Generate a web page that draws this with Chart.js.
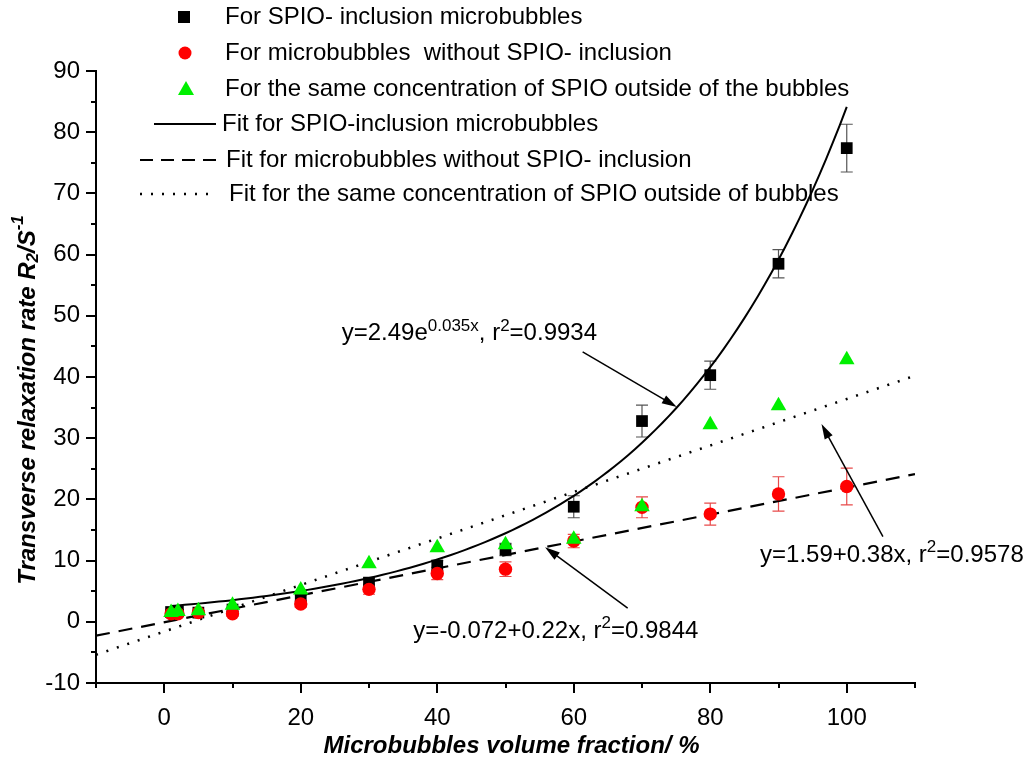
<!DOCTYPE html>
<html lang="en">
<head>
  <meta charset="UTF-8" />
  <title>Transverse relaxation rate vs microbubble volume fraction</title>
  <script src="https://cdn.jsdelivr.net/npm/chart.js"></script>
  <style>
    body {
      margin: 0;
      background: #fff;
    }
    .chart-container {
      position: relative;
      width: 1027px;
      height: 759px;
    }
  </style>
</head>
<body>
  <div class="chart-container">
    <canvas id="r2Chart"></canvas>
  </div>

  <script>
    // === Data ===
    const volumeFraction = [1, 2, 5, 10, 20, 30, 40, 50, 60, 70, 80, 90, 100];
    const r2SpioInclusion = [1.6, 1.7, 1.5, 2.0, 3.9, 6.4, 9.2, 11.8, 18.8, 32.8, 40.3, 58.5, 77.4];
    const errSpioInclusion = [0.3, 0.3, 0.3, 0.3, 0.5, 0.8, 0.8, 1.0, 1.8, 2.6, 2.3, 2.3, 3.9];
    const r2NoSpio = [1.3, 1.3, 1.5, 1.3, 2.9, 5.3, 7.9, 8.6, 13.2, 18.7, 17.6, 20.9, 22.1];
    const errNoSpio = [0.4, 0.4, 0.3, 0.4, 0.5, 0.8, 1.0, 1.2, 1.1, 1.7, 1.8, 2.8, 3.0];
    const r2SpioOutside = [1.5, 1.7, 1.8, 2.7, 5.2, 9.5, 12.1, 12.6, 13.5, 18.8, 32.2, 35.3, 42.8];

    // fit curves as drawn: exp y = a*e^(b x), linear y = a + b x
    const fitExpSpio = [2.49, 0.0352];
    const fitLinNoSpio = [-0.072, 0.22];
    const fitLinOutside = [-1.59, 0.38];
    const fitExpRange = [1, 100];
    const fitLinRange = [-10, 110];

    const xTickLabels = [0, 20, 40, 60, 80, 100];
    const yTickLabels = [-10, 0, 10, 20, 30, 40, 50, 60, 70, 80, 90];

    const FONT = "'Liberation Sans', Arial, sans-serif";
    const GREEN = '#00f000';
    const RED = '#ff0000';

    const toPoints = (xs, ys) => xs.map((x, i) => ({ x: x, y: ys[i] }));

    const expCurve = [];
    for (let x = fitExpRange[0]; x <= fitExpRange[1]; x += 1) {
      expCurve.push({ x: x, y: fitExpSpio[0] * Math.exp(fitExpSpio[1] * x) });
    }
    const linLine = p => fitLinRange.map(x => ({ x: x, y: p[0] + p[1] * x }));

    // === helpers for text with super/subscripts ===
    function richWidth(ctx, parts, size, style) {
      let w = 0;
      parts.forEach(([t, kind]) => {
        const s = kind === 'n' ? size : Math.round(size * 0.7);
        ctx.font = `${style} ${s}px ${FONT}`;
        w += ctx.measureText(t).width;
      });
      return w;
    }
    function drawRich(ctx, parts, x, y, size, style) {
      let cx = x;
      parts.forEach(([t, kind]) => {
        const s = kind === 'n' ? size : Math.round(size * 0.7);
        const dy = kind === 'sup' ? -size * 0.4 : kind === 'sub' ? size * 0.22 : 0;
        ctx.font = `${style} ${s}px ${FONT}`;
        ctx.fillText(t, cx, y + dy);
        cx += ctx.measureText(t).width;
      });
    }
    function arrow(ctx, x1, y1, x2, y2) {
      const a = Math.atan2(y2 - y1, x2 - x1);
      const hl = 15, hw = 4.5;
      ctx.beginPath();
      ctx.moveTo(x1, y1);
      ctx.lineTo(x2 - Math.cos(a) * hl * 0.7, y2 - Math.sin(a) * hl * 0.7);
      ctx.stroke();
      ctx.beginPath();
      ctx.moveTo(x2, y2);
      ctx.lineTo(x2 - hl * Math.cos(a) + hw * Math.sin(a), y2 - hl * Math.sin(a) - hw * Math.cos(a));
      ctx.lineTo(x2 - hl * Math.cos(a) - hw * Math.sin(a), y2 - hl * Math.sin(a) + hw * Math.cos(a));
      ctx.closePath();
      ctx.fill();
    }

    // annotations in data units: text left/baseline, arrow from -> to
    const annotations = [
      { parts: [['y=2.49e', 'n'], ['0.035x', 'sup'], [', r', 'n'], ['2', 'sup'], ['=0.9934', 'n']],
        at: [26.0, 46.0], from: [61.3, 44.1], to: [75.1, 35.1] },
      { parts: [['y=-0.072+0.22x, r', 'n'], ['2', 'sup'], ['=0.9844', 'n']],
        at: [36.5, -2.6], from: [67.9, 2.25], to: [55.8, 12.2] },
      { parts: [['y=1.59+0.38x, r', 'n'], ['2', 'sup'], ['=0.9578', 'n']],
        at: [87.3, 9.8], from: [105.3, 13.9], to: [96.3, 32.3] }
    ];

    const decorPlugin = {
      id: 'decor',
      beforeDatasetsDraw(chart) {
        const ctx = chart.ctx, xs = chart.scales.x, ys = chart.scales.y;
        ctx.save();
        ctx.lineWidth = 1.2;
        const bars = [[r2SpioInclusion, errSpioInclusion, '#555'], [r2NoSpio, errNoSpio, '#e84a4a']];
        bars.forEach(([vals, errs, col]) => {
          ctx.strokeStyle = col;
          volumeFraction.forEach((v, i) => {
            const px = xs.getPixelForValue(v);
            const t = ys.getPixelForValue(vals[i] + errs[i]);
            const b = ys.getPixelForValue(vals[i] - errs[i]);
            ctx.beginPath();
            ctx.moveTo(px, t); ctx.lineTo(px, b);
            ctx.moveTo(px - 6, t); ctx.lineTo(px + 6, t);
            ctx.moveTo(px - 6, b); ctx.lineTo(px + 6, b);
            ctx.stroke();
          });
        });
        ctx.restore();
      },
      afterDraw(chart) {
        const ctx = chart.ctx, xs = chart.scales.x, ys = chart.scales.y;
        const area = chart.chartArea;
        ctx.save();

        // tick marks
        ctx.strokeStyle = '#000';
        ctx.lineWidth = 2;
        ctx.beginPath();
        for (let v = xs.min; v <= xs.max; v += 10) {
          const px = Math.round(xs.getPixelForValue(v));
          const len = xTickLabels.includes(v) ? 10 : 5;
          ctx.moveTo(px, area.bottom); ctx.lineTo(px, area.bottom + len);
        }
        for (let v = ys.min; v <= ys.max; v += 5) {
          const py = Math.round(ys.getPixelForValue(v));
          const len = yTickLabels.includes(v) ? 10 : 5;
          ctx.moveTo(area.left, py); ctx.lineTo(area.left - len, py);
        }
        ctx.stroke();

        // legend
        ctx.fillStyle = '#000';
        ctx.textBaseline = 'middle';
        ctx.font = `24px ${FONT}`;
        const rows = [
          { y: 17, tx: 225, label: 'For SPIO- inclusion microbubbles', mark: 'sq' },
          { y: 53, tx: 225, label: 'For microbubbles  without SPIO- inclusion', mark: 'ci' },
          { y: 89, tx: 225, label: 'For the same concentration of SPIO outside of the bubbles', mark: 'tr' },
          { y: 124, tx: 222, label: 'Fit for SPIO-inclusion microbubbles', mark: 'solid' },
          { y: 160, tx: 226, label: 'Fit for microbubbles without SPIO- inclusion', mark: 'dash' },
          { y: 194, tx: 229, label: 'Fit for the same concentration of SPIO outside of bubbles', mark: 'dot' }
        ];
        rows.forEach(r => {
          ctx.save();
          if (r.mark === 'sq') {
            ctx.fillStyle = '#000';
            ctx.fillRect(184 - 6, r.y - 6, 12, 12);
          } else if (r.mark === 'ci') {
            ctx.fillStyle = RED;
            ctx.beginPath(); ctx.arc(185, r.y, 6.5, 0, Math.PI * 2); ctx.fill();
          } else if (r.mark === 'tr') {
            ctx.fillStyle = GREEN;
            ctx.beginPath();
            ctx.moveTo(186, r.y - 8); ctx.lineTo(194, r.y + 6); ctx.lineTo(178, r.y + 6);
            ctx.closePath(); ctx.fill();
          } else {
            ctx.strokeStyle = '#000';
            ctx.lineWidth = 2;
            if (r.mark === 'dash') ctx.setLineDash([13, 8]);
            if (r.mark === 'dot') { ctx.setLineDash([2, 9]); ctx.lineWidth = 2.5; }
            ctx.beginPath();
            ctx.moveTo(r.mark === 'solid' ? 154 : 140, r.y);
            ctx.lineTo(216, r.y);
            ctx.stroke();
          }
          ctx.restore();
          ctx.fillText(r.label, r.tx, r.y);
        });

        // annotations
        ctx.textBaseline = 'alphabetic';
        ctx.textAlign = 'left';
        ctx.lineWidth = 1.5;
        ctx.strokeStyle = '#000';
        annotations.forEach(a => {
          drawRich(ctx, a.parts, xs.getPixelForValue(a.at[0]), ys.getPixelForValue(a.at[1]), 24, 'normal');
          arrow(ctx, xs.getPixelForValue(a.from[0]), ys.getPixelForValue(a.from[1]),
            xs.getPixelForValue(a.to[0]), ys.getPixelForValue(a.to[1]));
        });

        // axis titles
        ctx.textBaseline = 'middle';
        const xTitle = [['Microbubbles volume fraction/ %', 'n']];
        const xw = richWidth(ctx, xTitle, 24, 'italic bold');
        drawRich(ctx, xTitle, (area.left + area.right) / 2 + 6 - xw / 2, 746, 24, 'italic bold');

        const yTitle = [['Transverse relaxation rate R', 'n'], ['2', 'sub'], ['/S', 'n'], ['-1', 'sup']];
        const yw = richWidth(ctx, yTitle, 24, 'italic bold');
        ctx.translate(28, 400);
        ctx.rotate(-Math.PI / 2);
        drawRich(ctx, yTitle, -yw / 2, 0, 24, 'italic bold');
        ctx.restore();
      }
    };

    new Chart(document.getElementById('r2Chart'), {
      type: 'scatter',
      data: {
        datasets: [
          {
            label: 'For the same concentration of SPIO outside of the bubbles',
            data: toPoints(volumeFraction, r2SpioOutside),
            pointStyle: 'triangle',
            pointRadius: 9,
            backgroundColor: GREEN,
            borderColor: GREEN,
            borderWidth: 0,
            order: 0
          },
          {
            label: 'For microbubbles without SPIO- inclusion',
            data: toPoints(volumeFraction, r2NoSpio),
            pointStyle: 'circle',
            pointRadius: 6.7,
            backgroundColor: RED,
            borderColor: RED,
            borderWidth: 0,
            order: 1
          },
          {
            label: 'For SPIO- inclusion microbubbles',
            data: toPoints(volumeFraction, r2SpioInclusion),
            pointStyle: 'rect',
            pointRadius: 8.3,
            backgroundColor: '#000',
            borderColor: '#000',
            borderWidth: 0,
            order: 2
          },
          {
            label: 'Fit for SPIO-inclusion microbubbles',
            data: expCurve,
            showLine: true,
            pointRadius: 0,
            borderColor: '#000',
            borderWidth: 2,
            order: 3
          },
          {
            label: 'Fit for microbubbles without SPIO- inclusion',
            data: linLine(fitLinNoSpio),
            showLine: true,
            pointRadius: 0,
            borderColor: '#000',
            borderWidth: 2.2,
            borderDash: [14, 9],
            order: 4
          },
          {
            label: 'Fit for the same concentration of SPIO outside of bubbles',
            data: linLine(fitLinOutside),
            showLine: true,
            pointRadius: 0,
            borderColor: '#000',
            borderWidth: 2.5,
            borderDash: [2, 9],
            order: 5
          }
        ]
      },
      options: {
        responsive: true,
        maintainAspectRatio: false,
        animation: false,
        layout: { padding: { top: 71, right: 112, left: 0, bottom: 0 } },
        plugins: {
          legend: { display: false },
          tooltip: { enabled: false }
        },
        scales: {
          x: {
            type: 'linear',
            min: -10,
            max: 110,
            afterFit: s => { s.height = 76; },
            grid: { display: false, drawTicks: false },
            border: { display: true, color: '#000', width: 2 },
            ticks: {
              stepSize: 10,
              autoSkip: false,
              maxRotation: 0,
              padding: 21,
              color: '#000',
              font: { family: FONT, size: 24 },
              callback: v => xTickLabels.includes(v) ? String(v) : ''
            }
          },
          y: {
            type: 'linear',
            min: -10,
            max: 90,
            afterFit: s => { s.width = 96; },
            grid: { display: false, drawTicks: false },
            border: { display: true, color: '#000', width: 2 },
            ticks: {
              stepSize: 5,
              autoSkip: false,
              padding: 16,
              color: '#000',
              font: { family: FONT, size: 24 },
              callback: v => yTickLabels.includes(v) ? String(v) : ''
            }
          }
        }
      },
      plugins: [decorPlugin]
    });
  </script>
</body>
</html>
